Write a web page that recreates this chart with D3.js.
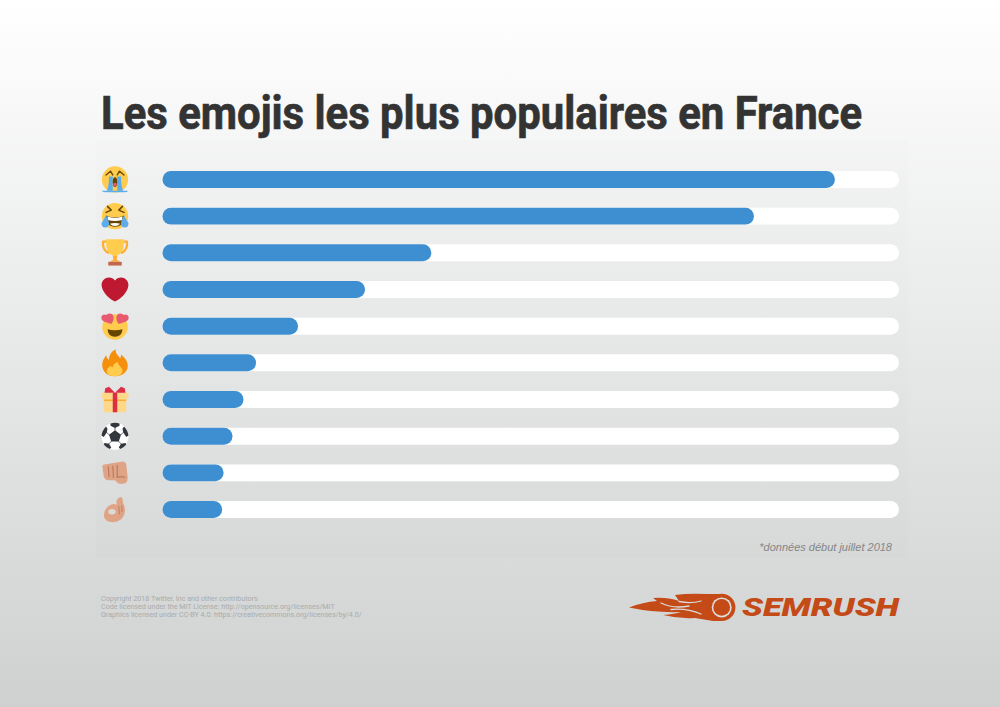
<!DOCTYPE html>
<html>
<head>
<meta charset="utf-8">
<script src="https://cdn.jsdelivr.net/npm/d3@7/dist/d3.min.js"></script>
<style>
  html, body { margin: 0; padding: 0; background: #fff; }
  svg { display: block; }
</style>
</head>
<body>
<svg width="1000" height="707"></svg>
<script>
var emojis = ["sob", "joy", "trophy", "heart", "hearteyes", "fire", "gift", "soccer", "fist", "okhand"];
var shares = [91.3, 80.3, 36.5, 27.5, 18.4, 12.7, 11.0, 9.5, 8.3, 8.1];
var domainMax = 100;

var svg = d3.select("svg");
var margin = {left: 162.5, right: 899, top: 171, bottom: 518};

// background
var defs = svg.append("defs");
var grad = defs.append("linearGradient")
  .attr("id", "bg").attr("x1", 0).attr("x2", 0).attr("y1", 0).attr("y2", 1);
grad.append("stop").attr("offset", "0%").attr("stop-color", "#ffffff");
grad.append("stop").attr("offset", "100%").attr("stop-color", "#cfd1d1");
svg.append("rect").attr("width", 1000).attr("height", 707).attr("fill", "url(#bg)");
svg.append("rect").attr("x", 96).attr("y", 140).attr("width", 812).attr("height", 418)
  .attr("fill", "#000").attr("opacity", 0.008);

svg.append("text")
  .attr("x", 101).attr("y", 129)
  .attr("font-family", "Roboto").attr("font-weight", 700).attr("font-size", 47)
  .attr("fill", "#333333").attr("stroke", "#333333").attr("stroke-width", 0.7)
  .attr("textLength", 761).attr("lengthAdjust", "spacingAndGlyphs")
  .text("Les emojis les plus populaires en France");

var x = d3.scaleLinear().domain([0, domainMax]).range([margin.left, margin.right]);
var y = d3.scaleBand().domain(emojis).range([margin.top, margin.bottom]).paddingInner(0.538);
var r = y.bandwidth() / 2;

// white tracks
svg.append("g").selectAll("rect").data(emojis).enter().append("rect")
  .attr("x", x(0))
  .attr("y", function(d) { return y(d); })
  .attr("width", x(domainMax) - x(0))
  .attr("height", y.bandwidth())
  .attr("rx", r)
  .attr("fill", "#ffffff");

// blue bars
svg.append("g").selectAll("rect").data(emojis).enter().append("rect")
  .attr("x", x(0))
  .attr("y", function(d) { return y(d); })
  .attr("width", function(d, i) { return x(shares[i]) - x(0); })
  .attr("height", y.bandwidth())
  .attr("rx", r)
  .attr("fill", "#3d8fd1");

// emoji drawings, all in a 36x36 box
var FACE = "#FFCC4D", BROWN = "#664500", TEAR = "#5DADEC", SKIN = "#DFA486", SKIND = "#C07A5E";

function face(g) { g.append("circle").attr("cx", 18).attr("cy", 18).attr("r", 17.5).attr("fill", FACE); }
function p(g, d, fill, stroke, sw) {
  return g.append("path").attr("d", d).attr("fill", fill || "none")
    .attr("stroke", stroke || "none").attr("stroke-width", sw || 0)
    .attr("stroke-linecap", "round").attr("stroke-linejoin", "round");
}

var draw = {
  sob: function(g) {
    face(g);
    p(g, "M6 12 L12 7 L15 12", null, BROWN, 1.8);
    p(g, "M30 12 L24 7 L21 12", null, BROWN, 1.8);
    p(g, "M10 14 H15 V33 H7 Q10 28 10 14 Z", TEAR);
    p(g, "M21 14 H26 Q26 28 29 33 H21 Z", TEAR);
    p(g, "M0 33 H36 Q34 35 30 35 H6 Q2 35 0 33 Z", TEAR);
    p(g, "M15 21 Q15 15 18 15 Q21 15 21 21 Q21 28 18 28 Q15 28 15 21 Z", BROWN);
    p(g, "M15.5 24 Q18 21 20.5 24 Q20.5 27.5 18 27.5 Q15.5 27.5 15.5 24 Z", "#E75A70");
  },
  joy: function(g) {
    face(g);
    p(g, "M6 13 L13 10 L8 5", null, BROWN, 2);
    p(g, "M30 13 L23 10 L28 5", null, BROWN, 2);
    p(g, "M6 17 Q18 22 30 17 Q30 32 18 32 Q6 32 6 17 Z", BROWN);
    p(g, "M8 18 Q18 22 28 18 L27.5 23 Q18 26 8.5 23 Z", "#fff");
    p(g, "M11 28 Q18 26 25 28 Q22 31 18 31 Q14 31 11 28 Z", "#fff");
    p(g, "M6 17 Q2 24 0 27 Q0 33 5 33 Q10 33 10 28 Q10 24 6 17 Z", TEAR);
    p(g, "M30 17 Q34 24 36 27 Q36 33 31 33 Q26 33 26 28 Q26 24 30 17 Z", TEAR);
  },
  trophy: function(g) {
    p(g, "M7 3 H2 Q1 14 9 18 M29 3 H34 Q35 14 27 18", null, "#FFAC33", 3);
    p(g, "M6 0 H30 Q31 19 20 22 V26 H16 V22 Q5 19 6 0 Z", FACE);
    p(g, "M15 22 H21 L20 27 L25 30 H11 L16 27 Z", "#FFAC33");
    p(g, "M9 30 H27 V35 H9 Z", "#C1694F");
  },
  heart: function(g) {
    p(g, "M35.885 11.833c0-5.45-4.418-9.868-9.867-9.868-3.308 0-6.227 1.633-8.018 4.129-1.791-2.496-4.71-4.129-8.017-4.129-5.45 0-9.868 4.417-9.868 9.868 0 .772.098 1.52.266 2.241C1.751 22.587 11.216 31.568 18 34.034c6.783-2.466 16.249-11.447 17.617-19.959.17-.721.268-1.469.268-2.242z", "#BE1931");
  },
  hearteyes: function(g) {
    g.append("circle").attr("cx", 18).attr("cy", 19).attr("r", 17).attr("fill", FACE);
    p(g, "M8 22 Q18 25 28 22 Q27 32 18 32 Q9 32 8 22 Z", BROWN);
    p(g, "M16 5 Q15 1 11 1 Q8 1 6 3 Q2 1 0 5 Q-1 10 4 12 L13 15 Q17 10 16 5 Z", "#E75A70");
    p(g, "M20 5 Q21 1 25 1 Q28 1 30 3 Q34 1 36 5 Q37 10 32 12 L23 15 Q19 10 20 5 Z", "#E75A70");
  },
  fire: function(g) {
    p(g, "M18 36 C8 36 1 30 1 21 C1 15 4 12 6 8 C7 11 8 13 10 14 C10 8 13 3 19 0 C18 5 22 8 25 12 C26 10 26 8 26 7 C31 11 35 16 35 22 C35 30 28 36 18 36 Z", "#F4900C");
    p(g, "M18 36 C11 36 7 33 7 29 C7 26 10 24 12 22 C13 24 14 24 15 24 C15 21 18 18 22 17 C21 20 26 23 28 27 C29 32 25 36 18 36 Z", "#FFCC4D");
  },
  gift: function(g) {
    p(g, "M3 13 H33 V33 Q33 35 31 35 H5 Q3 35 3 33 Z", "#FDD888");
    p(g, "M3 18 H33 V20 H3 Z", "#FFAC33");
    p(g, "M1 9 H35 Q36 9 36 11 V14 Q36 17 33 17 H3 Q0 17 0 14 V11 Q0 9 1 9 Z", "#FDD888");
    p(g, "M15 9 H21 V35 H15 Z", "#DD2E44");
    p(g, "M18 9 L10 1 L5 3 L4 9 Z M18 9 L26 1 L31 3 L32 9 Z", "#DD2E44");
  },
  soccer: function(g) {
    g.append("circle").attr("cx", 18).attr("cy", 18).attr("r", 18).attr("fill", "#fff");
    var dark = "#31373D";
    p(g, "M18 10 L26 16 L23 25 H13 L10 16 Z", dark);
    p(g, "M12 1 Q18 -1 24 1 L24 4 L18 7 L12 4 Z", dark);
    p(g, "M30 5 Q35 10 36 17 L33 19 L29 13 L28 8 Z", dark);
    p(g, "M6 5 Q1 10 0 17 L3 19 L7 13 L8 8 Z", dark);
    p(g, "M4 27 L10 28 L13 33 L11 35 Q6 33 3 29 Z", dark);
    p(g, "M32 27 L26 28 L23 33 L25 35 Q30 33 33 29 Z", dark);
    p(g, "M18 10 V7 M26 16 L29 13 M10 16 L7 13 M23 25 L26 28 M13 25 L10 28", null, dark, 1);
  },
  fist: function(g) {
    p(g, "M1 9 Q1 7 4 7 L28 3 Q32 3 33 7 L35 25 Q35 30 32 32 L26 33 Q22 33 20 30 L18 28 H9 Q5 28 3 23 Z", SKIN);
    p(g, "M9 10 L10 23 M15 9 L16 24 M21 8 L21 24", null, SKIND, 1.6);
    p(g, "M21 24 Q26 22 31 24", null, SKIND, 1.6);
  },
  okhand: function(g) {
    p(g, "M24 2 Q27 0 28 4 L29 10 Q32 14 31 22 Q29 34 16 35 Q4 35 3 26 Q3 18 10 13 Q16 9 20 12 L20 6 Q21 3 24 2 Z", SKIN);
    g.append("ellipse").attr("cx", 14).attr("cy", 21).attr("rx", 5).attr("ry", 3.6).attr("fill", "#DADAD6");
    p(g, "M23 14 L24 24 M27 13 L27.5 21", null, SKIND, 1.2);
  }
};

var iconSize = 27;
var icons = svg.append("g").selectAll("g").data(emojis).enter().append("g")
  .attr("transform", function(d) {
    return "translate(101.5," + (y(d) + r - iconSize / 2) + ") scale(" + iconSize / 36 + ")";
  });
icons.each(function(d) { draw[d](d3.select(this)); });

svg.append("text")
  .attr("x", 892).attr("y", 551)
  .attr("text-anchor", "end")
  .attr("font-family", "Liberation Sans").attr("font-style", "italic").attr("font-size", 11)
  .attr("fill", "#868686")
  .text("*données début juillet 2018");

// credits
var credits = [
  "Copyright 2018 Twitter, Inc and other contributors",
  "Code licensed under the MIT License: http://opensource.org/licenses/MIT",
  "Graphics licensed under CC-BY 4.0: https://creativecommons.org/licenses/by/4.0/"
];
svg.append("g").selectAll("text").data(credits).enter().append("text")
  .attr("x", 101)
  .attr("y", function(d, i) { return 600.5 + i * 8.3; })
  .attr("font-family", "Roboto").attr("font-size", 7.15)
  .attr("fill", "#a9abab")
  .text(function(d) { return d; });

// logo
var ORANGE = "#C44A17";
var logo = svg.append("g").attr("transform", "translate(629,594)");
p(logo, "M0 13.5 Q14 8 28 7 L24 4 Q38 3 50 7 L46 1 Q60 -1 78 0 L93 0 V27 H84 L78 26 L66 24 Q50 25 34 21 Q46 20 52 18 Q26 19 0 13.5 Z", ORANGE);
p(logo, "M32 9 Q44 15 60 12 M50 7.5 Q62 10 72 7 M42 15.5 Q58 14 72 20", null, "#d9dbdb", 1.3);
logo.append("circle").attr("cx", 92.7).attr("cy", 13.4).attr("r", 13.7).attr("fill", ORANGE);
logo.append("circle").attr("cx", 92.7).attr("cy", 13.4).attr("r", 10).attr("fill", "#dcdede");
logo.append("circle").attr("cx", 92.7).attr("cy", 13.4).attr("r", 8.4).attr("fill", ORANGE);

svg.append("text")
  .attr("x", 742).attr("y", 616)
  .attr("font-family", "Roboto").attr("font-weight", 900).attr("font-style", "italic").attr("font-size", 25)
  .attr("fill", ORANGE)
  .attr("textLength", 157).attr("lengthAdjust", "spacingAndGlyphs")
  .text("SEMRUSH");
</script>
</body>
</html>
